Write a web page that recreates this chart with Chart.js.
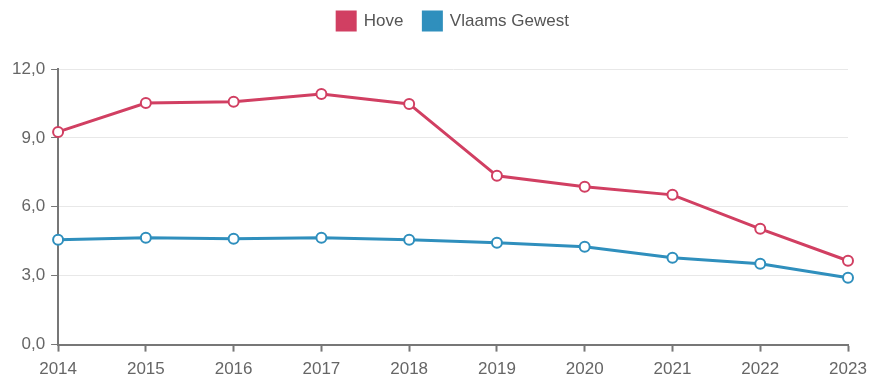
<!DOCTYPE html>
<html>
<head>
<meta charset="utf-8">
<script src="https://cdn.jsdelivr.net/npm/chart.js@4"></script>
<style>
  html, body { margin: 0; padding: 0; background: #fff; }
  #wrap { width: 870px; height: 376px; }
</style>
</head>
<body>
<div id="wrap"><canvas id="grafica"></canvas></div>
<script>
var jaren = ["2014", "2015", "2016", "2017", "2018", "2019", "2020", "2021", "2022", "2023"];
var hove = [9.26, 10.52, 10.57, 10.91, 10.48, 7.35, 6.87, 6.52, 5.04, 3.65];
var vlaamsGewest = [4.57, 4.65, 4.61, 4.65, 4.57, 4.43, 4.26, 3.78, 3.52, 2.91];
var yTicks = [0, 3, 6, 9, 12];

Chart.defaults.font.family = "'Liberation Sans', Arial, sans-serif";
Chart.defaults.color = "#666";

// extra ruimte onder de legende, legende gecentreerd boven de grafiek,
// x-labels iets lager tekenen zonder dat de as verschuift
var legendeMarge = {
    id: "legendeMarge",
    beforeInit: function (chart) {
        var origFit = chart.legend.fit;
        chart.legend.fit = function () {
            origFit.bind(chart.legend)();
            this.height += 20;
        };
    },
    beforeLayout: function (chart) {
        var sx = chart.scales.x;
        if (sx && !sx._gewrapt) {
            var origItems = sx._computeLabelItems;
            sx._computeLabelItems = function (ca) {
                var items = origItems.call(this, ca);
                items.forEach(function (it) {
                    if (it.options && it.options.translation) {
                        it.options.translation[1] += 6;
                    }
                });
                return items;
            };
            sx._gewrapt = true;
        }
    },
    afterLayout: function (chart) {
        var lg = chart.legend;
        lg.left = chart.chartArea.left;
        lg.right = chart.chartArea.right;
        lg.top -= 9;
        lg.bottom -= 9;
    }
};

var canvasGrafica = document.getElementById("grafica");
var datosGrafica = {
    labels: jaren,
    datasets: [
        {
            label: "Hove",
            data: hove,
            borderColor: "#d13f62",
            backgroundColor: "#d13f62",
            pointBackgroundColor: "#fff",
            pointBorderColor: "#d13f62",
            pointRadius: 5,
            pointBorderWidth: 2,
            borderWidth: 3,
            tension: 0
        },
        {
            label: "Vlaams Gewest",
            data: vlaamsGewest,
            borderColor: "#2f8fbd",
            backgroundColor: "#2f8fbd",
            pointBackgroundColor: "#fff",
            pointBorderColor: "#2f8fbd",
            pointRadius: 5,
            pointBorderWidth: 2,
            borderWidth: 3,
            tension: 0
        }
    ]
};
var myLineChart = new Chart(canvasGrafica, {
    type: "line",
    data: datosGrafica,
    plugins: [legendeMarge],
    options: {
        responsive: true,
        maintainAspectRatio: false,
        animation: false,
        layout: { padding: { top: 1, right: 22, left: 6, bottom: 0 } },
        plugins: {
            legend: {
                position: "top",
                labels: {
                    boxWidth: 18,
                    boxHeight: 18,
                    padding: 20,
                    font: { size: 17 },
                    color: "#555"
                }
            },
            tooltip: { enabled: false }
        },
        scales: {
            x: {
                offset: false,
                grid: {
                    drawOnChartArea: false,
                    drawTicks: true,
                    tickLength: 7,
                    tickColor: "#777",
                    tickWidth: 2
                },
                border: { color: "#777", width: 2 },
                ticks: { font: { size: 17 }, color: "#666", padding: 2, maxRotation: 0 }
            },
            y: {
                min: 0,
                max: 12,
                afterBuildTicks: function (axis) {
                    axis.ticks = yTicks.map(function (v) { return { value: v }; });
                },
                grid: {
                    color: "#e8e8e8",
                    tickColor: "#777",
                    tickLength: 7,
                    lineWidth: 1
                },
                border: { color: "#777", width: 2 },
                ticks: {
                    font: { size: 17 },
                    color: "#666",
                    padding: 6,
                    callback: function (v) { return v.toFixed(1).replace(".", ","); }
                }
            }
        }
    }
});
</script>
</body>
</html>
